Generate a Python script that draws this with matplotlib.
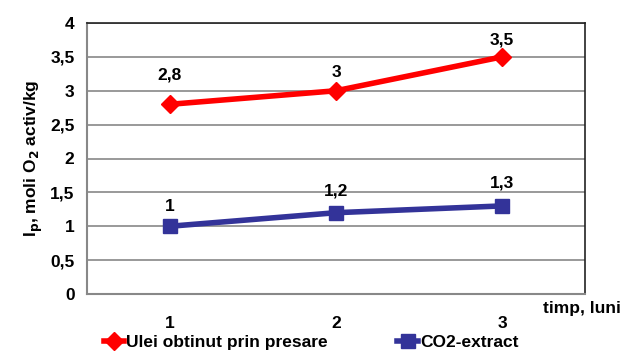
import matplotlib
matplotlib.use("Agg")
import matplotlib.pyplot as plt
from matplotlib.ticker import FuncFormatter

plt.rcParams['font.family'] = ['Liberation Sans', 'DejaVu Sans']

months = [1, 2, 3]
ulei = [2.8, 3.0, 3.5]
co2 = [1.0, 1.2, 1.3]
ulei_labels = ["2,8", "3", "3,5"]
co2_labels = ["1", "1,2", "1,3"]
ulei_offsets = [16, 8, 7]
co2_offsets = [9, 10, 11]

FS = 12.5
fig = plt.figure(figsize=(6.22, 3.56), dpi=100)
ax = fig.add_axes([87/622, 1-294/356, (585-87)/622, (294-23)/356])

l1, = ax.plot(months, ulei, color='#ff0000', lw=4, marker='D', ms=9, label='Ulei obtinut prin presare')
l2, = ax.plot(months, co2, color='#333399', lw=4, marker='s', ms=10, label='CO2-extract')

for x, y, t, o in zip(months, ulei, ulei_labels, ulei_offsets):
    ax.annotate(t, (x, y), xytext=(0, o), textcoords='offset points', ha='center', va='bottom',
                fontsize=FS, fontweight='bold')
for x, y, t, o in zip(months, co2, co2_labels, co2_offsets):
    ax.annotate(t, (x, y), xytext=(0, o), textcoords='offset points', ha='center', va='bottom',
                fontsize=FS, fontweight='bold')

ax.set_xlim(0.5, 3.5)
ax.set_ylim(0, 4)
ax.set_yticks([0, 0.5, 1, 1.5, 2, 2.5, 3, 3.5, 4])
ax.yaxis.set_major_formatter(FuncFormatter(lambda v, p: ('%g' % v).replace('.', ',')))
ax.set_xticks(months)
ax.set_xticklabels([str(m) for m in months])
ax.tick_params(axis='x', length=0, pad=16, labelsize=FS)
ax.tick_params(axis='y', length=0, pad=9, labelsize=FS)
for lab in ax.get_xticklabels() + ax.get_yticklabels():
    lab.set_fontweight('bold')

ax.yaxis.grid(True, color='#888888', lw=1.2)
ax.set_axisbelow(True)
for s in ['left', 'bottom']:
    ax.spines[s].set_color('#888888')
    ax.spines[s].set_linewidth(1.5)
for s in ['top', 'right']:
    ax.spines[s].set_color('#222222')
    ax.spines[s].set_linewidth(1.2)

ax.set_ylabel('I$_\\mathbf{p}$, moli O$_\\mathbf{2}$ activ/kg', fontsize=FS, fontweight='bold', labelpad=4)
fig.text(621/622, 1-309/356, 'timp, luni', ha='right', va='center', fontsize=FS, fontweight='bold')

fig.legend(handles=[l1, l2], loc='center', bbox_to_anchor=(0.5, 1-342/356), ncol=2, frameon=False,
           prop={'weight': 'bold', 'size': FS}, handlelength=1.2, columnspacing=4,
           handletextpad=0.1)

fig.savefig('out.png', dpi=100)
